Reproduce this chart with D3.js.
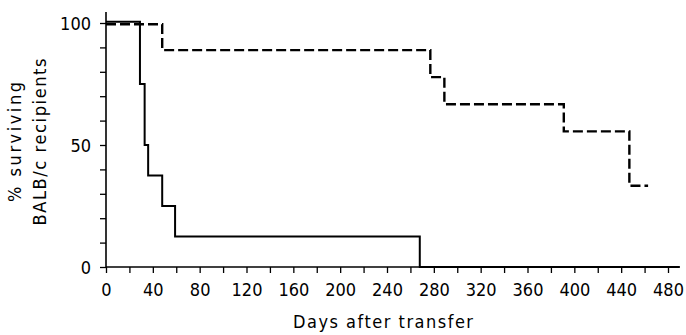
<!DOCTYPE html>
<html><head><meta charset="utf-8">
<script src="https://cdn.jsdelivr.net/npm/d3@7"></script>
<style>body{margin:0;background:#fff}svg{display:block}</style>
</head><body>
<svg id="c" width="686" height="335"></svg>
<script>
// Days after transfer at which survival steps down, and % surviving after each step
const solidDays = [0, 29, 33, 36, 48, 59, 268, 490];
const solidPct  = [100.5, 75, 50, 37.5, 25, 12.5, 0, 0];
const dashedDays = [0, 48, 277, 289, 391, 447, 463];
const dashedPct  = [99.5, 88.9, 77.8, 66.7, 55.6, 33.3, 33.3];
const xTickLabels = [0, 40, 80, 120, 160, 200, 240, 280, 320, 360, 400, 440, 480];
const yTickLabels = [0, 50, 100];

const svg = d3.select("#c");
const font = "'DejaVu Sans Condensed', 'DejaVu Sans', sans-serif";
const x = d3.scaleLinear().domain([0, 480]).range([106, 668]);
const y = d3.scaleLinear().domain([0, 100]).range([267, 23]);

// axes
const xAxis = d3.axisBottom(x).tickValues(d3.range(0, 481, 20)).tickSize(6).tickPadding(10)
  .tickFormat(d => xTickLabels.includes(d) ? d : "");
const gx = svg.append("g").attr("transform", `translate(0,${y(0)})`).call(xAxis);
gx.select(".domain").attr("d", `M${x(0)},0H${x(490)}`);
const yAxis = d3.axisLeft(y).tickValues(d3.range(0, 101, 10)).tickSize(6).tickPadding(9)
  .tickFormat(d => yTickLabels.includes(d) ? d : "");
const gy = svg.append("g").attr("transform", `translate(${x(0)},0)`).call(yAxis);
gy.select(".domain").attr("d", `M0,${y(104.5)}V${y(0)}`);
svg.selectAll(".domain").attr("stroke", "#000").attr("stroke-width", 1.6);
svg.selectAll(".tick line").attr("stroke", "#000").attr("stroke-width", 1.3);
svg.selectAll(".tick text").attr("font-family", font).attr("font-size", 18).attr("fill", "#000");
gy.selectAll(".tick text").attr("dy", "0.35em");

const line = d3.line().x(d => x(d[0])).y(d => y(d[1])).curve(d3.curveStepAfter);
svg.append("path").datum(solidDays.map((d, i) => [d, solidPct[i]]))
  .attr("d", line).attr("fill", "none").attr("stroke", "#000").attr("stroke-width", 2);
svg.append("path").datum(dashedDays.map((d, i) => [d, dashedPct[i]]))
  .attr("d", line).attr("fill", "none").attr("stroke", "#000").attr("stroke-width", 2.4)
  .attr("stroke-dasharray", "10,4");

// titles
svg.append("text").attr("x", 383).attr("y", 328).attr("text-anchor", "middle")
  .attr("font-family", font).attr("font-size", 18).attr("fill", "#000")
  .attr("textLength", 180).attr("lengthAdjust", "spacing")
  .text("Days after transfer");
const yt = svg.append("g").attr("transform", "translate(0,142) rotate(-90)");
yt.append("text").attr("x", 0).attr("y", 21).attr("text-anchor", "middle")
  .attr("font-family", font).attr("font-size", 18).attr("fill", "#000")
  .attr("textLength", 120).attr("lengthAdjust", "spacing").text("% surviving");
yt.append("text").attr("x", 0).attr("y", 46).attr("text-anchor", "middle")
  .attr("font-family", font).attr("font-size", 18).attr("fill", "#000")
  .attr("textLength", 167).attr("lengthAdjust", "spacing").text("BALB/c recipients");
</script>
</body></html>
